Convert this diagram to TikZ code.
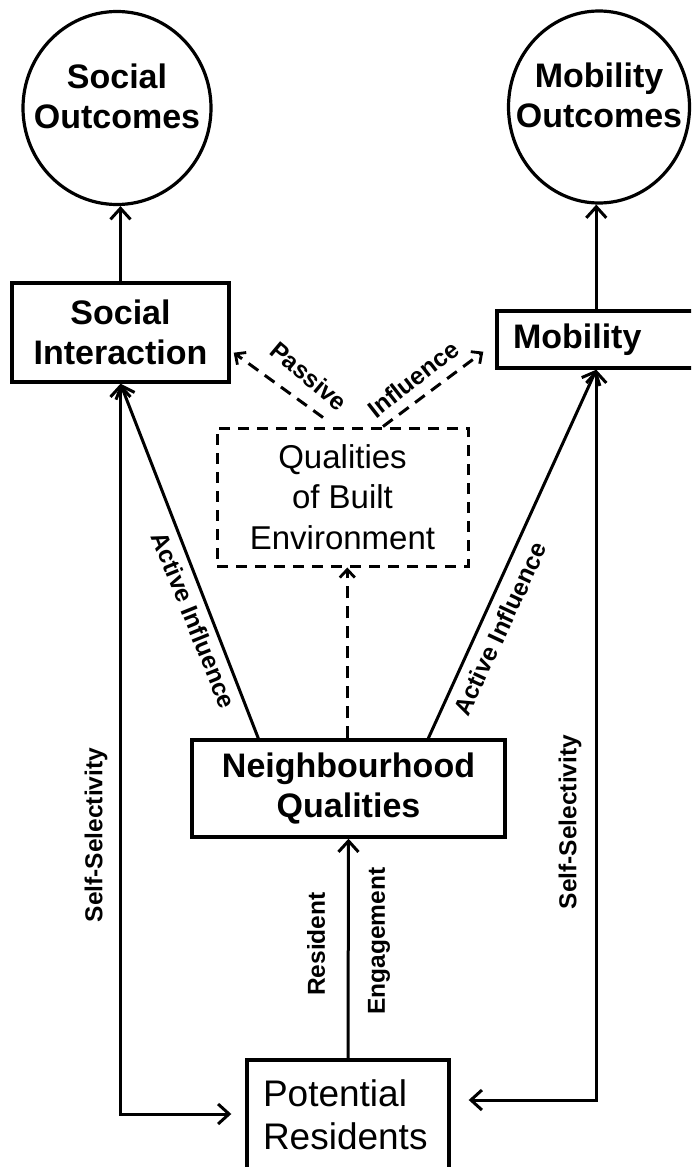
\documentclass[tikz,border=0pt]{standalone}
\usepackage{fontspec}
\setmainfont{Liberation Sans}
\usetikzlibrary{arrows.meta,shapes.geometric,calc}
\begin{document}
\begin{tikzpicture}[x=1pt,y=-1pt,
  sbox/.style={draw,line width=3.4pt,rectangle,inner sep=0pt,align=center},
  bigb/.style={font=\fontsize{34}{40}\selectfont\bfseries,align=center},
  lab/.style={font=\fontsize{24.5}{28}\selectfont\bfseries,inner sep=0pt},
  circ/.style={draw,ellipse,line width=3.2pt,inner sep=0pt},
  tipb/.tip={Straight Barb[length=11pt,width=20pt,line width=3pt]},
  tips/.tip={Straight Barb[length=8pt,width=15pt,line width=2.8pt]},
  conn/.style={line width=3pt,-tipb},
  dconn/.style={line width=3pt,dash pattern=on 12pt off 8pt,-tips}]
\useasboundingbox (0,0) rectangle (691,1167);
\clip (0,0) rectangle (691,1167);
% outcome circles
\node[circ,minimum width=188pt,minimum height=193pt] (so) at (117,108) {};
\node[bigb,inner sep=0pt] (sot) at (117,96) {Social\\Outcomes};
\node[circ,minimum width=181pt,minimum height=192pt] (mo) at (599,107) {};
\node[bigb,inner sep=0pt] (mot) at (599,95) {Mobility\\Outcomes};
% boxes
\node[sbox,bigb,minimum width=217pt,minimum height=99pt] (si) at (120.5,332.5) {Social\\Interaction};
\node[sbox,bigb,text width=191pt,inner xsep=16pt,align=left,minimum height=57pt] (mob) at (608.5,339.5) {Mobility};
\node[sbox,line width=3pt,dash pattern=on 11pt off 8pt,minimum width=251pt,minimum height=138pt,font=\fontsize{33}{40.5}\selectfont] (qual) at (342.5,497) {Qualities\\of Built\\Environment};
\node[sbox,bigb,minimum width=313pt,minimum height=97pt] (nq) at (348.5,788.5) {Neighbourhood\\Qualities};
\node[sbox,font=\fontsize{37}{43}\selectfont,text width=170pt,inner xsep=16pt,align=left,minimum height=110pt] (pr) at (348,1115) {Potential\\Residents};
% helper coordinates
\coordinate (mobin) at ($(mob.south west)+(101,0)$);
\coordinate (nqL) at ($(nq.north west)+(68,0)$);
\coordinate (nqM) at ($(nq.north west)+(157,0)$);
\coordinate (nqR) at ($(nq.north west)+(238,0)$);
\coordinate (qpas) at ($(qual.north)+(-19.5,-9)$);
\coordinate (qinf) at ($(qual.north)+(40.5,0)$);
\coordinate (siin) at ($(si.south east)+(3,-31)$);
\coordinate (mobdin) at ($(mob.south west)+(-12,-18)$);
\coordinate (prL) at ($(pr.west)+(-14,-1)$);
\coordinate (prR) at ($(pr.east)+(18,-15)$);
% connectors
\draw[conn] (si.north) -- (si.north |- so.south);
\draw[conn] (mobin |- mob.north) -- (mobin |- mo.south);
\draw[dconn] (qpas) -- (siin);
\draw[dconn] (qinf) -- (mobdin);
\draw[conn] (nqL) -- (si.south);
\draw[conn] (nqR) -- (mobin);
\draw[dconn] (nqM) -- (nqM |- qual.south);
\draw[conn] (pr.north) -- (nq.south);
\draw[line width=3pt,tipb-tipb] (si.south) |- (prL);
\draw[line width=3pt,tipb-tipb] (mobin) |- (prR);
% labels
\node[lab,rotate=-40] (lpas) at (309,376) {Passive};
\node[lab,rotate=38] (linf) at (413,379) {Influence};
\node[lab,rotate=-68] (lail) at (194,620) {Active Influence};
\node[lab,rotate=65] (lair) at (500,629) {Active Influence};
\node[lab,rotate=90] (lssl) at (96,835) {Self-Selectivity};
\node[lab,rotate=90] (lssr) at (570,822) {Self-Selectivity};
\node[lab,rotate=90] (lres) at (316,944) {Resident};
\node[lab,rotate=90] (leng) at (379,941) {Engagement};
\end{tikzpicture}
\end{document}
